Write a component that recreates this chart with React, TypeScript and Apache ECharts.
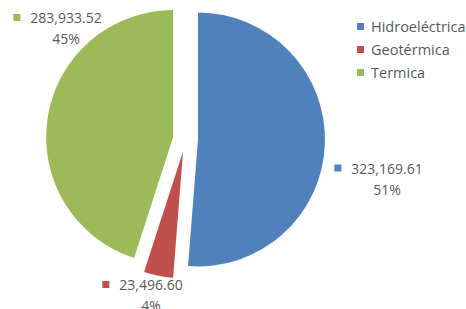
import React, { useEffect, useRef } from "react";
import * as echarts from "echarts";

const categories = ["Hidroeléctrica", "Geotérmica", "Termica"];
const values = [323169.61, 23496.6, 283933.52];
const colors = ["#4F81BD", "#C0504D", "#9BBB59"];

// label anchor (center x, top y) for each slice label
const labelAnchors: [number, number][] = [
  [378.5, 157.5],
  [142.5, 274],
  [57.5, 7],
];

const FONT = "Open Sans";
const CENTER: [number, number] = [185.5, 139];
const RADIUS = 127;
const EXPLODE = 12.5;

export default function App() {
  const ref = useRef<HTMLDivElement>(null);
  useEffect(() => {
    document.body.style.margin = "0";
    const chart = echarts.init(ref.current!, null, { renderer: "svg" });
    const total = values.reduce((a, b) => a + b, 0);
    const fmt = (v: number) =>
      v.toLocaleString("en-US", { minimumFractionDigits: 2, maximumFractionDigits: 2 });
    const rich: any = {
      v: { fontSize: 14, color: "#595959", fontFamily: FONT, lineHeight: 21 },
      p: { fontSize: 14, color: "#595959", fontFamily: FONT, lineHeight: 21, padding: [0, 0, 0, 17] },
      g: { width: 10 },
    };
    colors.forEach((c, i) => {
      rich["sq" + i] = { width: 7, height: 7, backgroundColor: c };
    });

    // mid-angle of each slice (clockwise from 12 o'clock) to explode it outwards
    let cum = 0;
    const mids = values.map((v) => {
      const m = (cum + v / 2) / total;
      cum += v;
      return m * Math.PI * 2;
    });

    const series = values.map((_, k) => ({
      type: "pie",
      center: [CENTER[0] + EXPLODE * Math.sin(mids[k]), CENTER[1] - EXPLODE * Math.cos(mids[k])],
      radius: RADIUS,
      startAngle: 90,
      clockwise: true,
      avoidLabelOverlap: false,
      silent: true,
      emphasis: { disabled: true },
      labelLine: { show: false },
      label: {
        show: true,
        position: "outside",
        formatter: (p: any) =>
          `{sq${p.dataIndex}|}{g|}{v|${fmt(p.value)}}\n{p|${Math.round((p.value / total) * 100)}%}`,
        rich,
      },
      labelLayout: (p: any) => ({
        x: labelAnchors[p.dataIndex][0],
        y: labelAnchors[p.dataIndex][1],
        align: "center",
        verticalAlign: "top",
      }),
      data: categories.map((name, i) => ({
        name,
        value: values[i],
        itemStyle: { color: i === k ? colors[i] : "rgba(0,0,0,0)", borderWidth: 0 },
        label: { show: i === k },
      })),
    }));

    chart.setOption({
      animation: false,
      legend: {
        orient: "vertical",
        left: 352,
        top: 14,
        itemWidth: 7,
        itemHeight: 7,
        itemGap: 8,
        icon: "rect",
        selectedMode: false,
        data: categories.map((name, i) => ({ name, itemStyle: { color: colors[i] } })),
        textStyle: { color: "#595959", fontSize: 14.5, fontFamily: FONT, padding: [0, 0, 0, 2] },
      },
      series,
    });
    return () => chart.dispose();
  }, []);
  return (
    <div
      ref={ref}
      style={{ position: "fixed", left: 0, top: 0, width: 466, height: 309, background: "#fff" }}
    />
  );
}
